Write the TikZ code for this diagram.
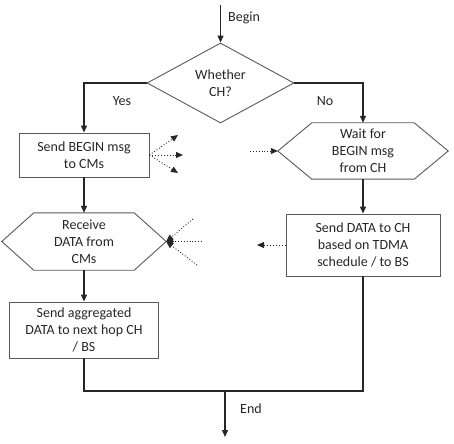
\documentclass[tikz,border=0pt]{standalone}
\usepackage{fontspec}
\setmainfont{Carlito}
\usetikzlibrary{arrows.meta,shapes.geometric}
\begin{document}
\begin{tikzpicture}[x=1bp,y=-1bp,
  every node/.style={font=\fontsize{14bp}{17bp}\selectfont, text=black!85},
  proc/.style={draw=black!65, line width=0.9bp, align=center, inner sep=0pt},
  hexnode/.style={align=center, inner sep=0pt},
  hexline/.style={draw=black!65, line width=0.9bp, line join=miter},
  decision/.style={diamond, draw=black!65, line width=0.9bp, align=center, inner sep=0pt,
    minimum width=147bp, minimum height=80bp},
  flow/.style={line width=1.3bp, draw=black!85, -{Triangle[length=7bp,width=6bp]}},
  link/.style={line width=1.3bp, draw=black!85},
  sig/.style={dotted, line width=0.9bp, draw=black!85, -{Triangle[length=7bp,width=6bp]}},
  lbl/.style={inner sep=0pt}]
\useasboundingbox (0,0) rectangle (454,444);

% nodes
\node[decision] (ch) at (220.5,83) {Whether\\CH?};
\node[proc, minimum width=130bp, minimum height=44bp] (sendbegin) at (84,155) {Send BEGIN msg\\to CMs};
\node[hexnode, minimum width=170bp, minimum height=56bp] (wait) at (363,151) {Wait for\\BEGIN msg\\from CH};
\node[hexnode, minimum width=164bp, minimum height=57bp] (receive) at (84,241.5) {Receive\\DATA from\\CMs};
\node[proc, minimum width=154bp, minimum height=62bp] (senddata) at (363,245) {Send DATA to CH\\based on TDMA\\schedule / to BS};
\node[proc, minimum width=149bp, minimum height=56bp] (sendagg) at (84,330) {Send aggregated\\DATA to next hop CH\\/ BS};

% hexagon outlines
\draw[hexline] (wait.west) -- ([xshift=34bp]wait.north west) -- ([xshift=-34bp]wait.north east)
  -- (wait.east) -- ([xshift=-34bp]wait.south east) -- ([xshift=34bp]wait.south west) -- cycle;
\draw[hexline] (receive.west) -- ([xshift=32bp]receive.north west) -- ([xshift=-32bp]receive.north east)
  -- (receive.east) -- ([xshift=-32bp]receive.south east) -- ([xshift=32bp]receive.south west) -- cycle;

% labels
\node[lbl, anchor=west] (lbegin) at (228,18) {Begin};
\node[lbl] (lyes) at (122,101) {Yes};
\node[lbl] (lno) at (325,101) {No};
\node[lbl, anchor=west] (lend) at (240,409) {End};

% coordinates
\coordinate (start) at (220.5,5);
\coordinate (join) at (225,391);
\coordinate (finish) at (225,437);
\coordinate (b1) at (178,135);
\coordinate (b2) at (183,155);
\coordinate (b3) at (178,173);
\coordinate (w0) at (250,151);
\coordinate (d0) at (257,245);
\coordinate (r1) at (193,219);
\coordinate (r2) at (202,241.5);
\coordinate (r3) at (197,265);

% main flow
\draw[flow] (start) -- (ch.north);
\draw[flow] (ch.west) -| (sendbegin.north);
\draw[flow] (ch.east) -| (wait.north);
\draw[flow] (sendbegin.south) -- (receive.north);
\draw[flow] (receive.south) -- (sendagg.north);
\draw[flow] (wait.south) -- (senddata.north);
\draw[link] (sendagg.south) |- (join) -| (senddata.south);
\draw[flow] (join) -- (finish);

% signals
\draw[sig] (sendbegin.east) -- (b1);
\draw[sig] (sendbegin.east) -- (b2);
\draw[sig] (sendbegin.east) -- (b3);
\draw[sig] (w0) -- (wait.west);
\draw[sig] (senddata.west) -- (d0);
\draw[sig] (r1) -- (receive.east);
\draw[sig] (r2) -- (receive.east);
\draw[sig] (r3) -- (receive.east);
\end{tikzpicture}
\end{document}
